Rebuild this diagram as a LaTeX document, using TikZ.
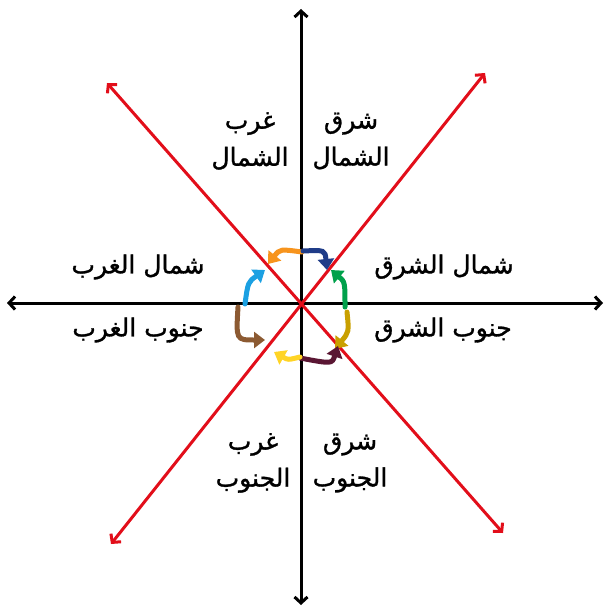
\documentclass[tikz,border=0pt]{standalone}
\usepackage{fontspec}
\newfontfamily\arabicfont[Script=Arabic,FakeBold=1.2]{DejaVu Sans}
\TeXXeTstate=1
\usetikzlibrary{arrows.meta}
\definecolor{dirred}{RGB}{226,14,26}
\definecolor{turnorange}{RGB}{247,148,29}
\definecolor{turnnavy}{RGB}{31,60,136}
\definecolor{turngreen}{RGB}{0,161,75}
\definecolor{turngold}{RGB}{201,160,0}
\definecolor{turnmaroon}{RGB}{90,22,51}
\definecolor{turnyellow}{RGB}{255,212,37}
\definecolor{turnbrown}{RGB}{140,90,50}
\definecolor{turnsky}{RGB}{27,160,226}
\newcommand\rtl[1]{\beginR #1\endR}

\begin{document}
\begin{tikzpicture}[x=1pt,y=-1pt,
  axis/.style={line width=3pt, {Straight Barb[length=6pt,width=13pt]}-{Straight Barb[length=6pt,width=13pt]}},
  lbl/.style={font=\arabicfont\fontsize{25}{37}\selectfont, align=center, inner sep=0pt},
  turn/.style={line width=5pt, line cap=round, -{Triangle[length=11pt,width=16pt]}}]
\useasboundingbox (0,0) rectangle (604,607);
\coordinate (O) at (301,303);
\coordinate (W) at (7,303);
\coordinate (E) at (603,303);
\coordinate (N) at (301,9);
\coordinate (S) at (301,605);
\coordinate (NW) at (107,83);
\coordinate (SE) at (503,533);
\coordinate (NE) at (485,73);
\coordinate (SW) at (111,544);
\draw[axis] (W) -- (E);
\draw[axis] (S) -- (N);
\draw[axis, dirred] (NW) -- (SE);
\draw[axis, dirred] (SW) -- (NE);
\node[lbl] (nwlbl) at (250,141) {\rtl{غرب}\\\rtl{الشمال}};
\node[lbl] (nelbl) at (351,141) {\rtl{شرق}\\\rtl{الشمال}};
\node[lbl] (swlbl) at (253,463) {\rtl{غرب}\\\rtl{الجنوب}};
\node[lbl] (selbl) at (350,463) {\rtl{شرق}\\\rtl{الجنوب}};
\node[lbl] (wnlbl) at (138,267) {\rtl{شمال الغرب}};
\node[lbl] (wslbl) at (138,330) {\rtl{جنوب الغرب}};
\node[lbl] (enlbl) at (444,267) {\rtl{شمال الشرق}};
\node[lbl] (eslbl) at (443,330) {\rtl{جنوب الشرق}};
\foreach \col/\a/\b/\c in {
  turnorange/{(302,252)}/{(280,249)}/{(268,264)},
  turnnavy/{(303,251)}/{(325,250)}/{(327,270)},
  turngreen/{(345,307)}/{(345,282)}/{(331,270)},
  turngold/{(347,312)}/{(349,332)}/{(335,349)},
  turnmaroon/{(300,358)}/{(332,364)}/{(338,346)},
  turnyellow/{(300,357)}/{(288,360)}/{(274,352)},
  turnbrown/{(238,307)}/{(236,340)}/{(265,340)},
  turnsky/{(245,304)}/{(248,282)}/{(265,270)}}
  \draw[turn, \col] \a .. controls \b .. \c;
\end{tikzpicture}
\end{document}
